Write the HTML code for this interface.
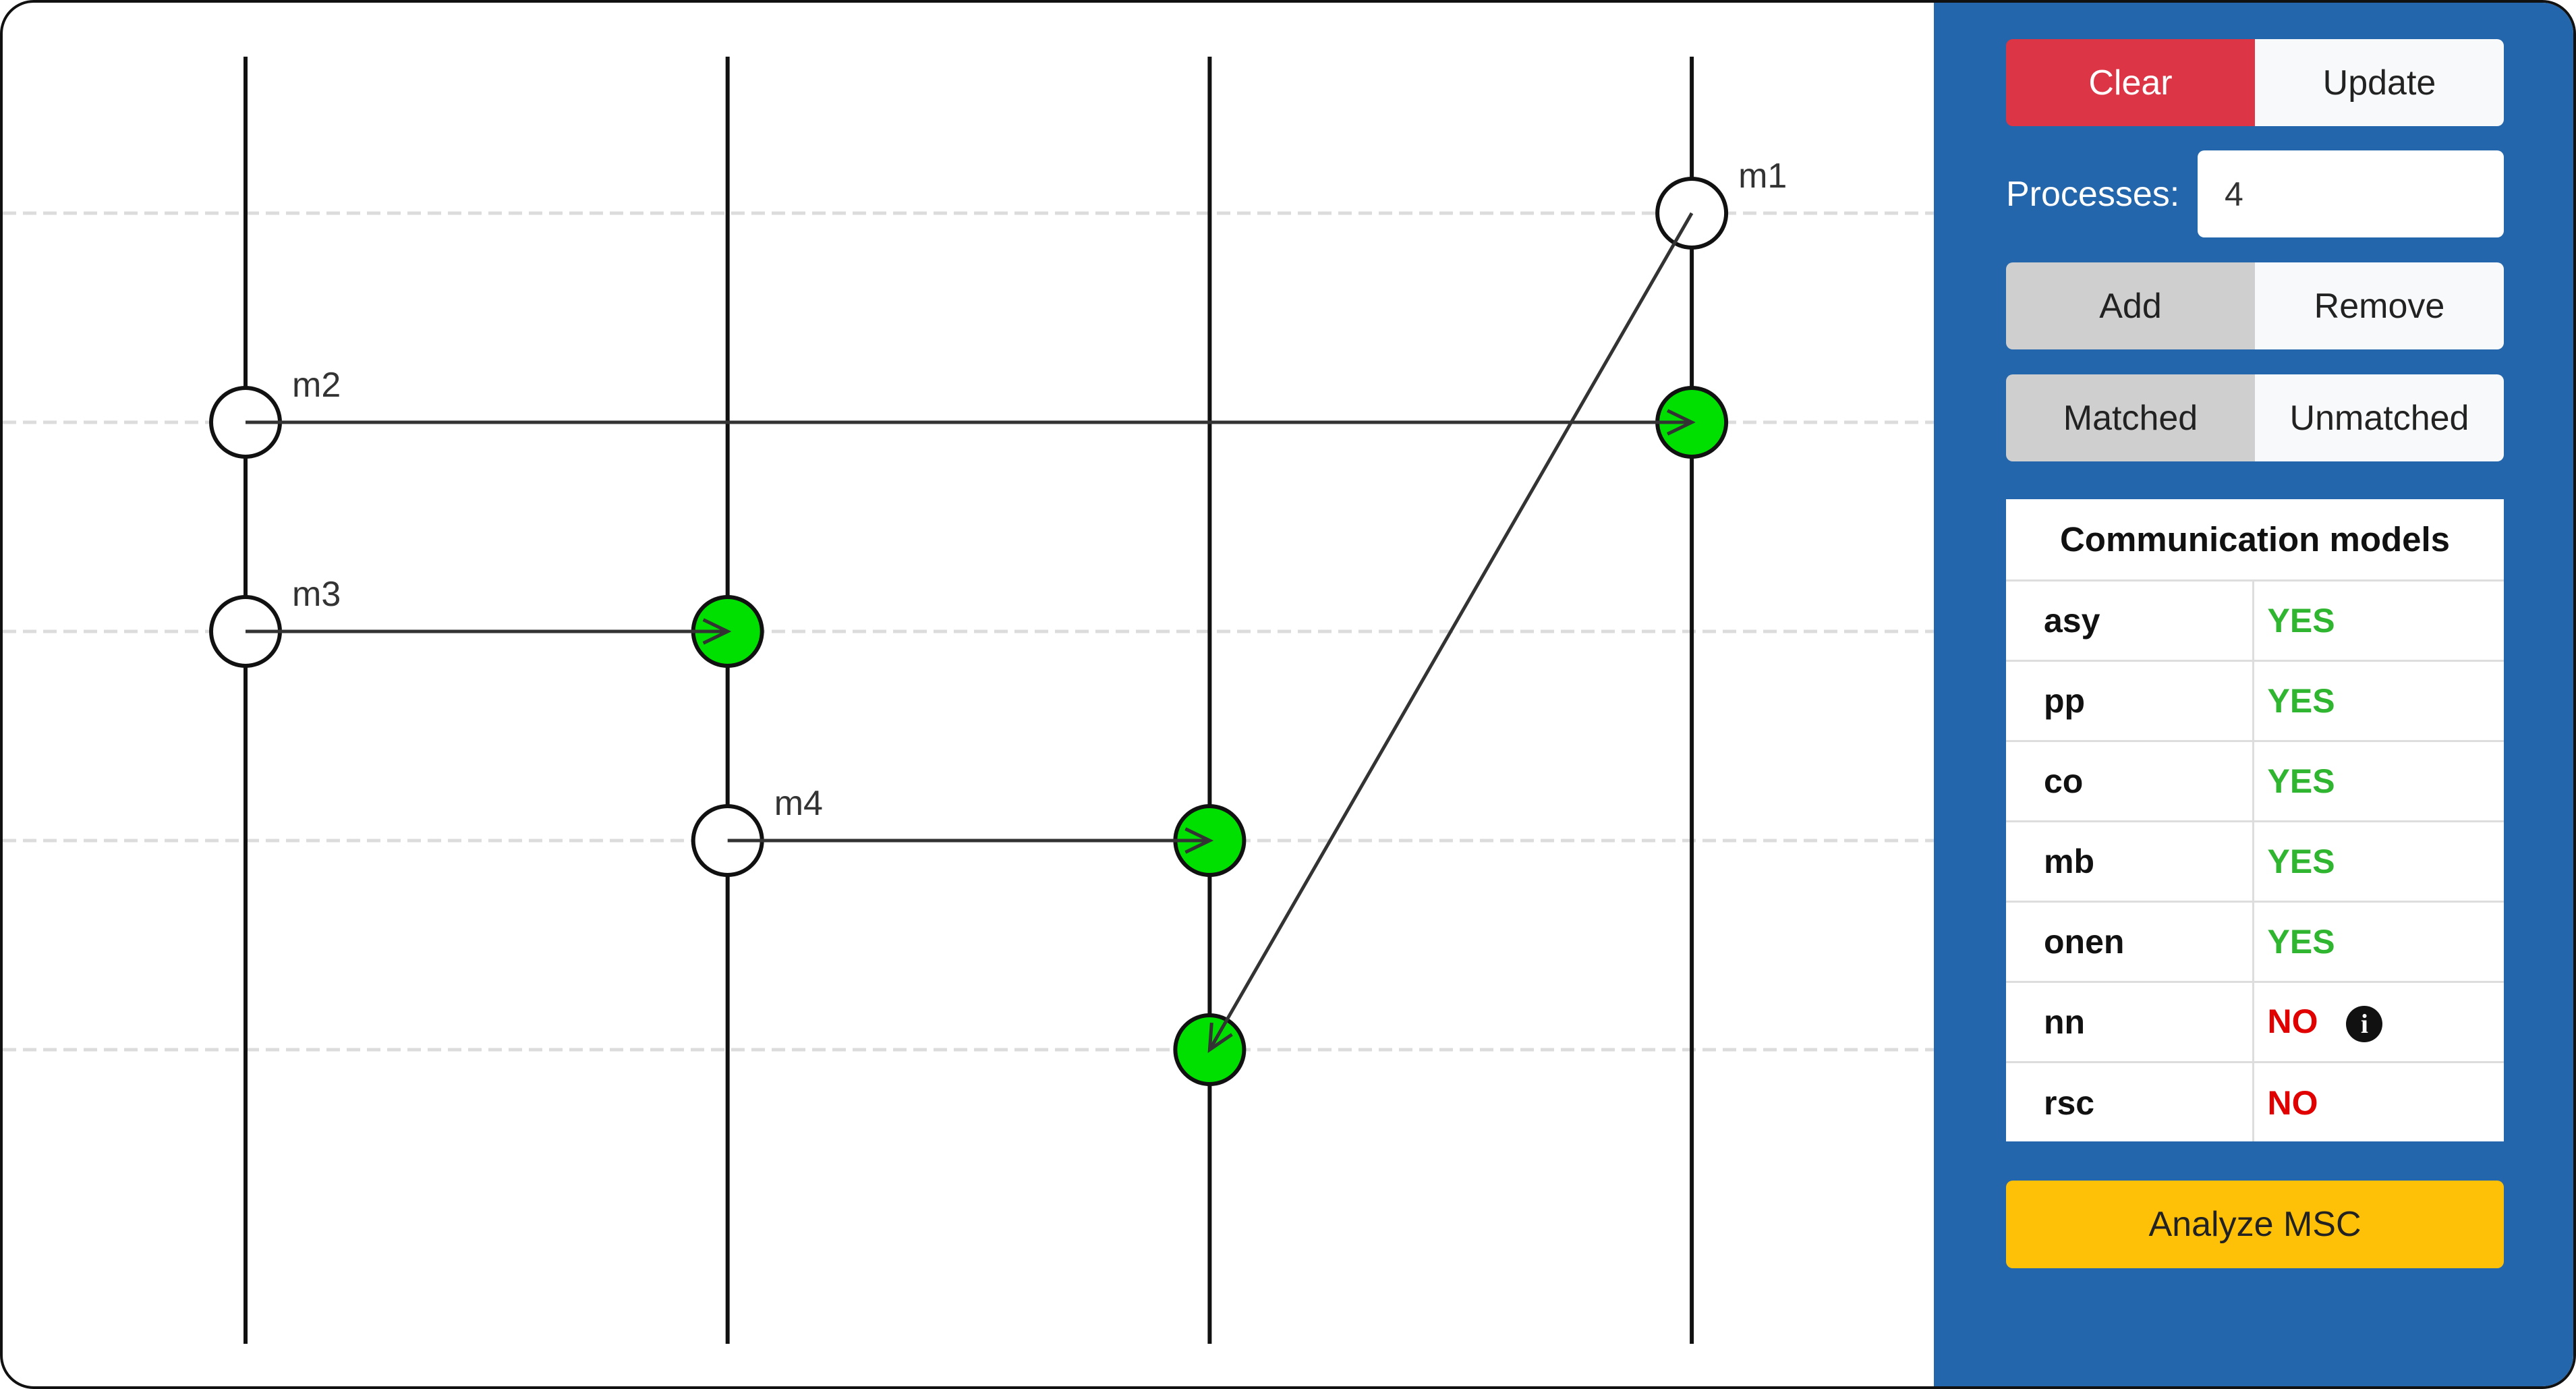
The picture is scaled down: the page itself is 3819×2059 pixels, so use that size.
<!DOCTYPE html>
<html><head><meta charset="utf-8"><style>
html,body{margin:0;padding:0;width:3819px;height:2059px;overflow:hidden;background:#fff;font-family:"Liberation Sans","DejaVu Sans",sans-serif}
#frame{position:absolute;left:0;top:0;width:3811px;height:2051px;border:4px solid #111;border-radius:50px;overflow:hidden;background:#fff}
#panel{position:absolute;left:2863px;top:0;width:960px;height:2060px;background:#2366ab}
.btn{position:absolute;display:flex;align-items:center;justify-content:center;font-size:52px;color:#222}
.grp{position:absolute;left:107px;width:738px;height:129px;border-radius:10px;overflow:hidden;display:flex}
.grp div{flex:1;display:flex;align-items:center;justify-content:center;font-size:52px;color:#222}
table{border-collapse:collapse;width:100%}
td{height:119px;box-sizing:border-box;border-top:3px solid #ddd;font-size:50px;font-weight:bold;padding:0 0 0 56px;color:#111}
td.v{border-left:3px solid #ddd;padding-left:20px}
.y{color:#2fb52f}.n{color:#e00000}
</style></head><body>
<div id="frame">
<svg id="msc" width="2863" height="2059" style="position:absolute;left:0;top:0"></svg>
<div id="panel">
 <div class="grp" style="top:54px">
  <div style="background:#dc3545;color:#fff">Clear</div>
  <div style="background:#f8f9fa">Update</div>
 </div>
 <div style="position:absolute;left:107px;top:219px;height:129px;display:flex;align-items:center;font-size:52px;color:#fff">Processes:</div>
 <div style="position:absolute;left:391px;top:219px;width:454px;height:129px;background:#fff;border-radius:10px;display:flex;align-items:center;font-size:50px;color:#333;box-sizing:border-box;padding-left:40px">4</div>
 <div class="grp" style="top:385px">
  <div style="background:#cfcfcf">Add</div>
  <div style="background:#f8f9fa">Remove</div>
 </div>
 <div class="grp" style="top:551px">
  <div style="background:#cfcfcf">Matched</div>
  <div style="background:#f8f9fa">Unmatched</div>
 </div>
 <div style="position:absolute;left:107px;top:736px;width:738px;height:952px;background:#fff;overflow:hidden">
  <div style="height:119px;display:flex;align-items:center;justify-content:center;font-size:51px;font-weight:bold;color:#111">Communication models</div>
  <table>
   <tr><td style="width:366px">asy</td><td class="v y">YES</td></tr>
   <tr><td>pp</td><td class="v y">YES</td></tr>
   <tr><td>co</td><td class="v y">YES</td></tr>
   <tr><td>mb</td><td class="v y">YES</td></tr>
   <tr><td>onen</td><td class="v y">YES</td></tr>
   <tr><td>nn</td><td class="v n">NO <span style="display:inline-block;width:54px;height:54px;border-radius:50%;background:#111;color:#fff;font-family:'Liberation Serif',serif;font-size:40px;text-align:center;line-height:54px;margin-left:28px;vertical-align:middle">i</span></td></tr>
   <tr><td>rsc</td><td class="v n">NO</td></tr>
  </table>
 </div>
 <div class="btn" style="left:107px;top:1746px;width:738px;height:130px;background:#ffc107;border-radius:10px">Analyze MSC</div>
</div>
</div>
<script>
const processes=[0,1,2,3];
const rows=[0,1,2,3,4];
const msgNames=["m1","m2","m3","m4"];
const msgFromProc=[3,0,0,1];
const msgFromRow=[0,1,2,3];
const msgToProc=[2,3,1,2];
const msgToRow=[4,1,2,3];
const NS="http://www.w3.org/2000/svg";
const svg=document.getElementById('msc');
const px=p=>360+p*714.7;
const ry=r=>312+r*310;
function mk(t,a){const e=document.createElementNS(NS,t);for(const k in a)e.setAttribute(k,a[k]);svg.appendChild(e);return e;}
rows.forEach(r=>{
 const l=mk('line',{x1:0,x2:2863,y1:ry(r),y2:ry(r),stroke:'#dcdcdc','stroke-width':5,'stroke-dasharray':'20 10'});
 
 
});
processes.forEach(p=>{
 const l=mk('line',{x1:px(p),x2:px(p),y1:80,y2:1988,stroke:'#111','stroke-width':6});
 
 
});
msgNames.forEach((n,i)=>{
 const x1=px(msgFromProc[i]),y1=ry(msgFromRow[i]),x2=px(msgToProc[i]),y2=ry(msgToRow[i]);
 const s=mk('circle',{cx:x1,cy:y1,r:51,fill:'#fff',stroke:'#111','stroke-width':6});
 
 
 const r=mk('circle',{cx:x2,cy:y2,r:51,fill:'#00e000',stroke:'#111','stroke-width':6});
 
 
 const l=mk('line',{x1:x1,y1:y1,x2:x2,y2:y2,stroke:'#333','stroke-width':5});
 
 
 const a=Math.atan2(y2-y1,x2-x1),L=40,w=0.45;
 const h=mk('polyline',{points:`${x2-L*Math.cos(a-w)},${y2-L*Math.sin(a-w)} ${x2},${y2} ${x2-L*Math.cos(a+w)},${y2-L*Math.sin(a+w)}`,fill:'none',stroke:'#333','stroke-width':5});
 
 
 const t=mk('text',{x:x1+69,y:y1-38,'font-size':52,fill:'#333','font-family':'Liberation Sans, sans-serif'});
 t.textContent=n;
 
 
});
</script>
</body></html>
